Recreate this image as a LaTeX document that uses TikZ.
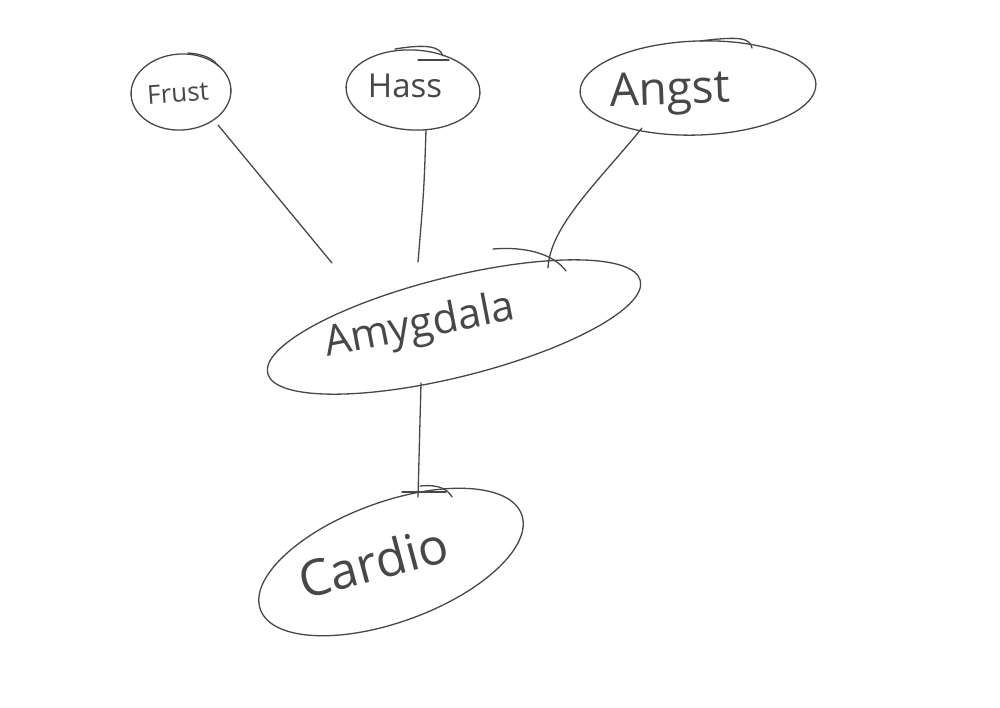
\documentclass[tikz,border=0pt]{standalone}
\usepackage{fontspec}
\setmainfont{Open Sans}
\usetikzlibrary{shapes.geometric}
\definecolor{ink}{HTML}{474747}
\tikzset{
  pen/.style={draw=ink, line width=1.3pt, line cap=round, line join=round},
  blob/.style={pen, ellipse, inner sep=0pt},
  word/.style={text=ink, inner sep=0pt, anchor=center},
}
\begin{document}
\begin{tikzpicture}[x=1pt,y=-1pt]
\useasboundingbox[fill=white] (0,0) rectangle (1000,707);
% ellipses
\node[blob, minimum width=100pt, minimum height=76pt, rotate=4] (frust) at (181,92) {};
\node[blob, minimum width=134pt, minimum height=80pt, rotate=-3] (hass) at (413,90) {};
\node[blob, minimum width=236pt, minimum height=94pt, rotate=2] (angst) at (698,88) {};
\node[blob, minimum width=384pt, minimum height=100pt, rotate=14] (amyg) at (454,327) {};
\node[blob, minimum width=278pt, minimum height=120pt, rotate=20] (cardio) at (391,562) {};
% texts
\node[word, font=\fontsize{26}{26}\selectfont, rotate=4] (tfrust) at (178,93) {Frust};
\node[word, font=\fontsize{33}{33}\selectfont] (thass) at (405,86) {Hass};
\node[word, font=\fontsize{46}{46}\selectfont, rotate=2] (tangst) at (670,93) {Angst};
\node[word, font=\fontsize{42}{42}\selectfont, rotate=11] (tamyg) at (420,327) {Amygdala};
\node[word, font=\fontsize{50}{50}\selectfont, rotate=15] (tcardio) at (373,562) {Cardio};
% connector free ends
\coordinate (fs) at (218,125);
\coordinate (fe) at (332,263);
\coordinate (hs) at (426,130);
\coordinate (he) at (418,262);
\coordinate (as) at (642,128);
\coordinate (ae) at (548,268);
\coordinate (cs) at (421,383);
\coordinate (ce) at (418,497);
% connectors
\draw[pen] (fs) -- (fe);
\draw[pen] (hs) .. controls (424,190) .. (he);
\draw[pen] (as) .. controls (598,182) and (550,226) .. (ae);
\draw[pen] (cs) .. controls (420,440) .. (ce);
% hand-drawn overshoots
\draw[pen] (395,49) .. controls (425,44) and (440,46) .. (443,56);
\draw[pen] (418,60) -- (449,60);
\draw[pen] (700,41) .. controls (740,36) and (750,38) .. (752,48);
\draw[pen] (493,249) .. controls (530,246) and (555,256) .. (566,271);
\draw[pen] (402,492) -- (446,492);
\draw[pen] (420,486) .. controls (440,484) and (448,490) .. (452,497);
\draw[pen] (188,53) .. controls (205,54) and (215,60) .. (218,66);
\end{tikzpicture}
\end{document}
